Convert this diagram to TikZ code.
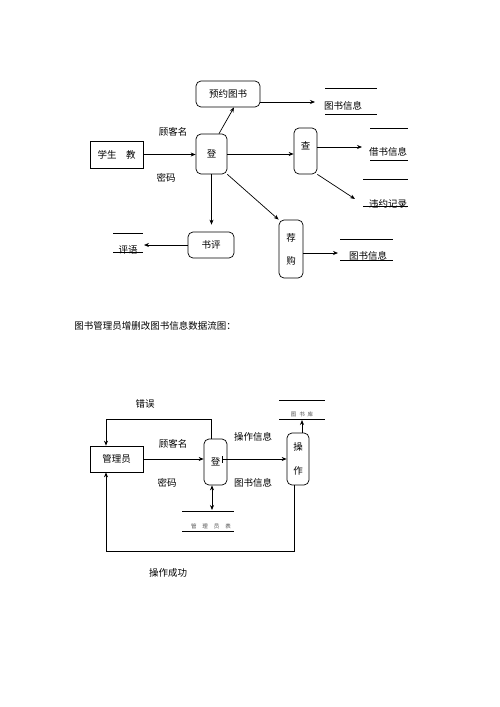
\documentclass[tikz,border=0pt]{standalone}
\usepackage{fontspec}
\setmainfont{Noto Sans CJK SC}
\usepackage{tikz}
\usetikzlibrary{arrows.meta,positioning}

\begin{document}
\begin{tikzpicture}[x=1pt, y=-1pt, line width=0.7pt, font=\fontsize{9.5}{11}\selectfont]
    \tikzstyle{entity} = [rectangle, draw, inner sep=0pt]
    \tikzstyle{proc} = [rectangle, draw, rounded corners=5pt, inner sep=0pt, align=center]
    \tikzstyle{store} = [inner sep=1pt]
    \tikzstyle{arr} = [-{Stealth[length=5pt,width=4pt]}]
    \tikzstyle{tiny} = [inner sep=0pt, font=\fontsize{5.5}{6}\selectfont, text=black!70]

    \useasboundingbox (0,0) rectangle (500,707);

    % Student / teacher flow
    \node [entity, minimum width=53, minimum height=27] (xs) at (116.5,154.5) {学生\quad 教};
    \node [proc, minimum width=31, minimum height=40] (dl) at (211.5,154) {登};
    \node [proc, minimum width=64, minimum height=26] (yy) at (228,94) {预约图书};
    \node [proc, minimum width=23, minimum height=46,
           label={[anchor=north, yshift=-10pt]north:查}] (cha) at (305.5,151) {};
    \node [proc, minimum width=24, minimum height=58] (jg) at (291,249) {荐\\[12pt]购};
    \node [proc, minimum width=46, minimum height=26] (sp) at (211,245) {书评};

    \node at (173,132) {顾客名};
    \node at (166,178) {密码};

    % Data stores
    \node [store] (tsxx) at (343,106) {图书信息};
    \draw (325,88) -- (377,88) (325,114) -- (377,114);
    \node [store] (jsxx) at (388,152) {借书信息};
    \draw (370,128) -- (408,128) (370,160) -- (408,160);
    \node [store] (wyjl) at (388,204) {违约记录};
    \draw (363,179) -- (408,179) (363,206) -- (408,206);
    \node [store] (py) at (128,250) {评语};
    \draw (113,233) -- (143,233) (113,252) -- (143,252);
    \node [store] (tsxx2) at (368,256) {图书信息};
    \draw (340,239) -- (393,239) (340,260) -- (393,260);

    \coordinate (tsin) at (315,102);
    \coordinate (jsin) at (362,147);
    \coordinate (wyin) at (355,199);
    \coordinate (pyin) at (144,245);
    \coordinate (tsin2) at (338,253);

    % Connections
    \draw[arr] (xs.east) -- (xs.east -| dl.west);
    \draw[arr] ([xshift=7.5pt]dl.north) -- ([xshift=6pt]yy.south);
    \draw[arr] ([yshift=-8pt]yy.east) -- (tsin);
    \draw[arr] (dl.east) -- (dl.east -| cha.west);
    \draw[arr] ([yshift=4pt]cha.east) -- (jsin);
    \draw[arr] (cha.south east) -- (wyin);
    \draw[arr, shorten >=7pt] (dl.south) -- (dl.south |- sp.north);
    \draw[arr] (dl.south east) -- (jg.north west);
    \draw[arr] (sp.west) -- (pyin);
    \draw[arr] ([yshift=-4pt]jg.east) -- (tsin2);

    % Caption
    \node [anchor=west, inner sep=0pt] (cap) at (74,326) {图书管理员增删改图书信息数据流图：};

    % Librarian flow
    \node [entity, minimum width=53, minimum height=26] (gly) at (116.5,459) {管理员};
    \node [proc, minimum width=23, minimum height=46] (dl2) at (215.5,462) {登};
    \node [proc, minimum width=22, minimum height=52] (cz) at (298,459) {操\\[13pt]作};

    \node at (145,404) {错误};
    \node at (173,444) {顾客名};
    \node at (167,483) {密码};
    \node at (253,437) {操作信息};
    \node at (253,483) {图书信息};
    \node at (168,573) {操作成功};

    \node [tiny] (tsk) at (302,414) {图\hspace{3pt}书\hspace{3pt}库};
    \draw (279,400) -- (325,400) (279,419) -- (325,419);
    \node [tiny] (glyb) at (211,526) {管\hspace{6pt}理\hspace{6pt}员\hspace{6pt}表};
    \draw (182,511) -- (234,511) (182,531) -- (234,531);

    \coordinate (tskin) at (302,420);
    \coordinate (glybin) at (212,510);

    \draw[arr] (gly.east) -- (gly.east -| dl2.west);
    \draw[{Bar[width=7pt]}-{Stealth[length=5pt,width=4pt]}] (222,459) -- (cz.west);
    \draw[arr] ([xshift=4pt]cz.north) -- (tskin);
    \draw[{Stealth[length=5pt,width=4pt]}-{Stealth[length=5pt,width=4pt]}] ([xshift=-3.5pt]dl2.south) -- (glybin);
    \draw[arr] ([xshift=-4.5pt]dl2.north) -- ++(0,-19) -| ([xshift=-10.5pt]gly.north);
    \draw[arr] ([xshift=-4pt]cz.south) -- ++(0,66) -| ([xshift=-10.5pt]gly.south);

\end{tikzpicture}
\end{document}
